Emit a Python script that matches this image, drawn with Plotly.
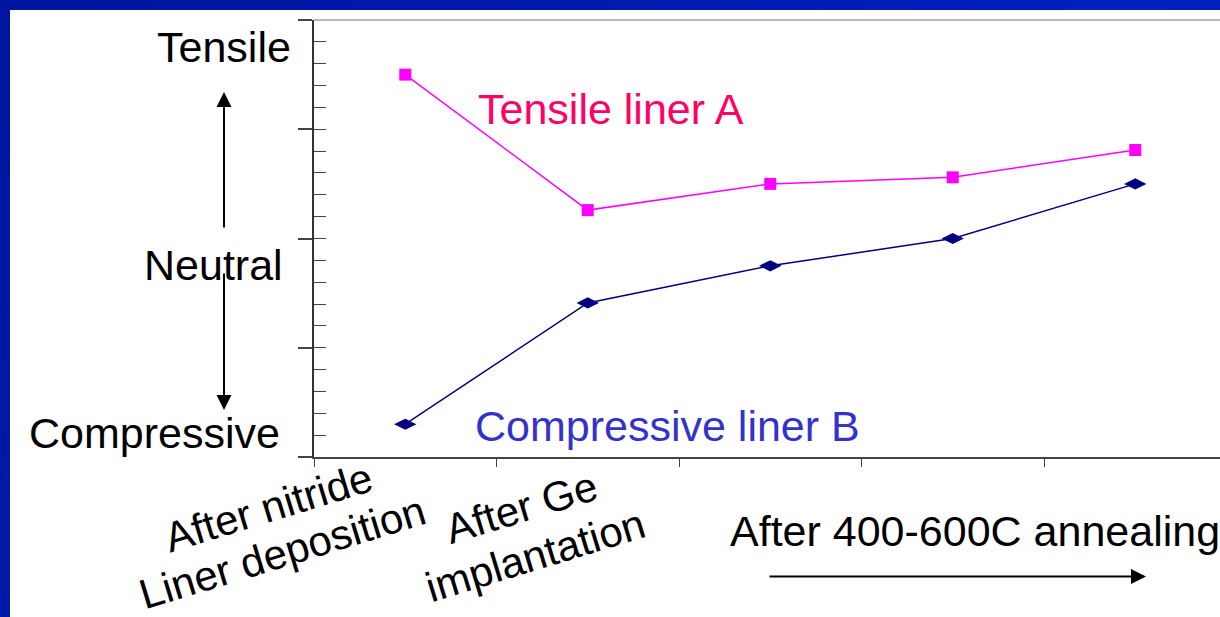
import plotly.graph_objects as go

# ---- data ----
stages = ["After nitride Liner deposition", "After Ge implantation",
          "Anneal 400C", "Anneal 500C", "Anneal 600C"]
tensile_A = [3.50, 2.26, 2.50, 2.56, 2.81]
compressive_B = [0.30, 1.41, 1.75, 2.00, 2.50]
stress_labels = ["Tensile", "Neutral", "Compressive"]
xlabel_lines = [["After nitride", "Liner deposition"], ["After Ge", "implantation"]]
anneal_label = "After 400-600C annealing"
series_names = ["Tensile liner A", "Compressive liner B"]

W, H = 1220, 617
L, R, T, B = 314, 1220, 20, 457
FONT = "Liberation Sans, Arial, sans-serif"


def px(x):
    return (x - L) / (R - L)


def py(y):
    return (B - y) / (B - T)


fig = go.Figure()
fig.add_trace(go.Scatter(
    x=stages, y=tensile_A, mode="lines+markers", name=series_names[0],
    line=dict(color="#FF00FF", width=1.5),
    marker=dict(symbol="square", size=12, color="#FF00FF"),
))
fig.add_trace(go.Scatter(
    x=stages, y=compressive_B, mode="lines+markers", name=series_names[1],
    line=dict(color="#000080", width=1.5),
    marker=dict(symbol="diamond-wide", size=16, color="#000080"),
))
# invisible trace for overlay axis ticks
fig.add_trace(go.Scatter(x=[stages[0]], y=[0], yaxis="y2", mode="markers",
                         marker=dict(opacity=0), showlegend=False, hoverinfo="skip"))

shapes = []
# blue frame (gradient approximation)
n = 24
for i in range(n):
    t = i / (n - 1)
    g_ = int(22 + 10 * t)
    b_ = int(160 + 32 * t)
    shapes.append(dict(type="rect", xref="paper", yref="paper",
                       x0=px(W * i / n), x1=px(W * (i + 1) / n + 1),
                       y0=py(10), y1=py(0), line=dict(width=0),
                       fillcolor=f"rgb(0,{g_},{b_})", layer="above"))
for i in range(n):
    t = i / (n - 1)
    g_ = int(22 + 4 * t)
    b_ = int(160 + 10 * t)
    shapes.append(dict(type="rect", xref="paper", yref="paper",
                       x0=px(0), x1=px(10),
                       y0=py(H * (i + 1) / n + 1), y1=py(H * i / n),
                       line=dict(width=0), fillcolor=f"rgb(0,{g_},{b_})", layer="above"))
# top plot border
shapes.append(dict(type="line", xref="paper", yref="paper", x0=0, x1=1, y0=1, y1=1,
                   line=dict(color="#A0A0A0", width=1.5)))

ann = []
label_y = [47, 265, 433]
label_r = [293, 285, 282]
for txt, yy, rr in zip(stress_labels, label_y, label_r):
    ann.append(dict(text=txt, x=px(rr), y=py(yy), xref="paper", yref="paper",
                    xanchor="right", yanchor="middle", showarrow=False,
                    font=dict(family=FONT, size=43, color="black")))
# series labels
ann.append(dict(text=series_names[0], x=px(611), y=py(109), xref="paper", yref="paper",
                xanchor="center", yanchor="middle", showarrow=False,
                font=dict(family=FONT, size=43, color="#FF0066")))
ann.append(dict(text=series_names[1], x=px(667), y=py(426), xref="paper", yref="paper",
                xanchor="center", yanchor="middle", showarrow=False,
                font=dict(family=FONT, size=43, color="#3333CC")))
# rotated category labels
rot_pos = [[(268, 507), (282, 552)], [(521, 507), (535, 555)]]
for lines, poss in zip(xlabel_lines, rot_pos):
    for txt, (xx, yy) in zip(lines, poss):
        ann.append(dict(text=txt, x=px(xx), y=py(yy), xref="paper", yref="paper",
                        xanchor="center", yanchor="middle", showarrow=False,
                        textangle=-17,
                        font=dict(family=FONT, size=42, color="black")))
ann.append(dict(text=anneal_label, x=px(975), y=py(531), xref="paper", yref="paper",
                xanchor="center", yanchor="middle", showarrow=False,
                font=dict(family=FONT, size=43, color="black")))
# arrows
arrows = [((224, 92), (224, 229)), ((224, 410), (224, 272)), ((1146, 576.5), (768, 576.5))]
for (hx, hy), (tx, ty) in arrows:
    ann.append(dict(text="", x=px(hx), y=py(hy), xref="paper", yref="paper",
                    ax=tx - hx, ay=ty - hy, axref="pixel", ayref="pixel",
                    showarrow=True, arrowhead=2, arrowsize=1.5, arrowwidth=2,
                    arrowcolor="black"))

fig.update_layout(
    width=W, height=H,
    margin=dict(l=L, r=W - R, t=T, b=H - B, pad=0),
    paper_bgcolor="white", plot_bgcolor="white",
    showlegend=False,
    xaxis=dict(type="category", categoryorder="array", categoryarray=stages,
               range=[-0.5, 4.5 - 6.5 / 182.5], tickson="boundaries",
               ticks="outside", ticklen=8, tickwidth=1, tickcolor="#444",
               showticklabels=False, showgrid=False, zeroline=False,
               showline=True, linecolor="#444", linewidth=1.5),
    yaxis=dict(range=[0, 4], dtick=1, tick0=0, ticks="outside", ticklen=14,
               tickwidth=1.5, tickcolor="#444", showticklabels=False,
               showgrid=False, zeroline=False, showline=True,
               linecolor="#333", linewidth=2),
    yaxis2=dict(range=[0, 4], dtick=0.2, tick0=0, ticks="inside", ticklen=12,
                tickwidth=1.2, tickcolor="#444", showticklabels=False,
                showgrid=False, zeroline=False, showline=False,
                overlaying="y", side="left"),
    shapes=shapes,
    annotations=ann,
)

fig.write_html("out.html")
